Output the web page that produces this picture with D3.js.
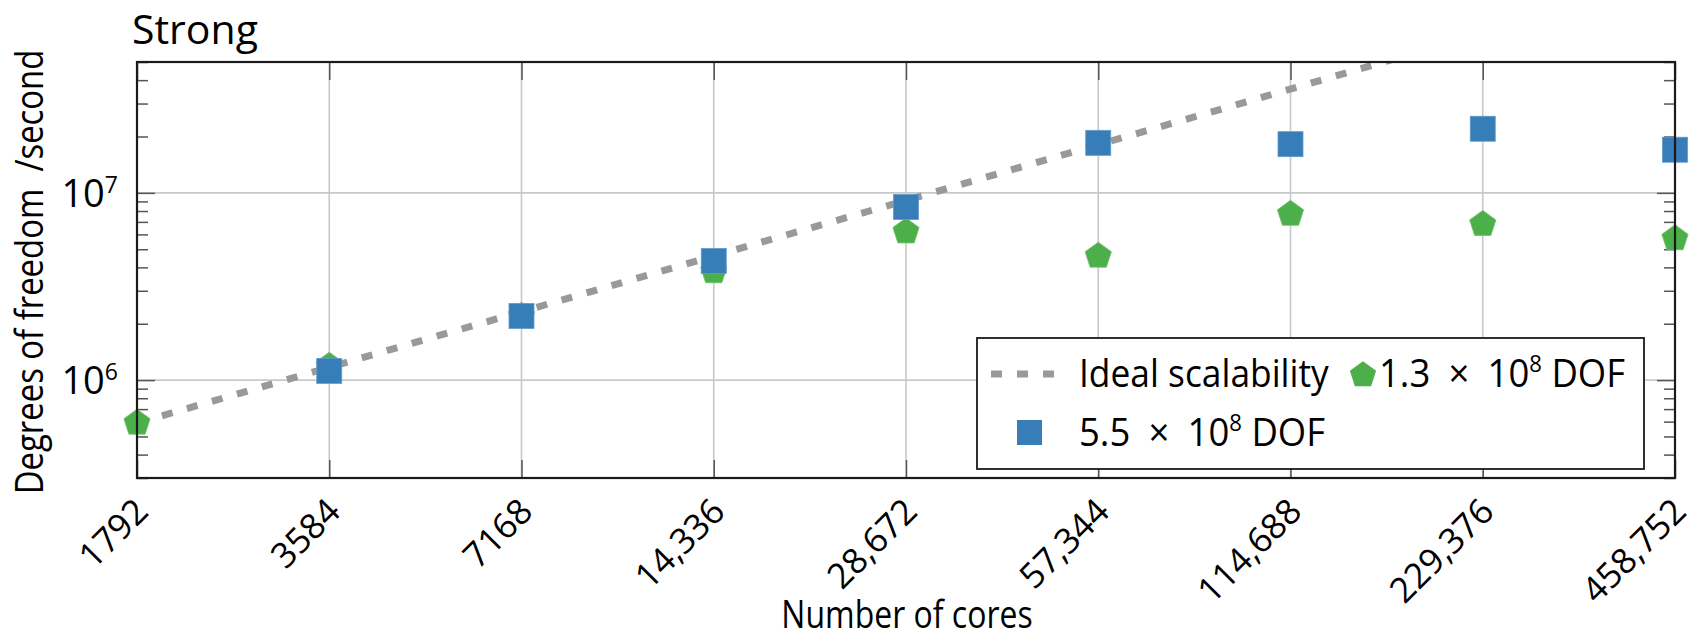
<!DOCTYPE html>
<html>
<head>
<meta charset="utf-8">
<script src="https://cdn.jsdelivr.net/npm/d3@7"></script>
<style>
  html, body { margin: 0; padding: 0; background: #fff; }
  svg text { fill: #000; font-family: 'Open Sans', sans-serif; }
</style>
</head>
<body>
<svg id="chart"></svg>
<script>
// number of cores on the x axis, with their printed labels
const cores = [1792, 3584, 7168, 14336, 28672, 57344, 114688, 229376, 458752];
const coreLabels = ['1792', '3584', '7168', '14,336', '28,672', '57,344', '114,688', '229,376', '458,752'];

// 1.3 x 10^8 DOF problem (green pentagons), one value per core count
const dofSmall = [5.9e5, 1.19e6, 2.2e6, 3.8e6, 6.2e6, 4.6e6, 7.7e6, 6.8e6, 5.7e6];

// 5.5 x 10^8 DOF problem (blue squares), starts at 3584 cores
const coresLarge = [3584, 7168, 14336, 28672, 57344, 114688, 229376, 458752];
const dofLarge = [1.12e6, 2.2e6, 4.33e6, 8.4e6, 1.85e7, 1.82e7, 2.2e7, 1.7e7];

// ideal scalability line, read at both ends
const idealCores = [1792, 458752];
const idealDof = [5.9e5, 1.41e8];

const yMajor = [1e6, 1e7];

const width = 1696;
const height = 638;
const margin = {top: 62, right: 21, bottom: 160, left: 137};

const blue = '#377eb8';
const green = '#4daf4a';
const gridGrey = '#c8c8c8';
const tickGrey = '#555';
const dash = '11,15';

const svg = d3.select('#chart')
	.attr('width', width)
	.attr('height', height);

const x = d3.scaleLog().base(2)
	.domain([1792, 458752]).range([margin.left, width - margin.right]);
const y = d3.scaleLog()
	.domain([3e5, 5e7]).range([height - margin.bottom, margin.top]);

const x0 = x.range()[0], x1 = x.range()[1];
const y0 = y.range()[0], y1 = y.range()[1];

svg.append('defs').append('clipPath').attr('id', 'plot-clip')
	.append('rect')
	.attr('x', x0).attr('y', y1)
	.attr('width', x1 - x0).attr('height', y0 - y1);

// grid
const grid = svg.append('g');
grid.selectAll('.vgrid').data(cores).enter().append('line')
	.attr('x1', d => x(d)).attr('x2', d => x(d))
	.attr('y1', y0).attr('y2', y1)
	.attr('stroke', gridGrey).attr('stroke-width', 1.6);
grid.selectAll('.hgrid').data(yMajor).enter().append('line')
	.attr('x1', x0).attr('x2', x1)
	.attr('y1', d => y(d)).attr('y2', d => y(d))
	.attr('stroke', gridGrey).attr('stroke-width', 1.6);

// axes (ticks point inward)
const styleTicks = (g) => {
	g.select('.domain').remove();
	g.selectAll('.tick line').attr('stroke', tickGrey).attr('stroke-width', 1.5);
};

const minor = y.ticks().filter(d => !yMajor.includes(d));

svg.append('g')
	.attr('transform', `translate(0,${y0})`)
	.call(d3.axisBottom(x).tickValues(cores).tickSizeInner(-18).tickSizeOuter(0)
		.tickFormat((d, i) => coreLabels[i]))
	.call(styleTicks)
	.call(g => g.selectAll('.tick text')
		.attr('font-family', "'Open Sans', sans-serif")
		.attr('font-size', 35)
		.attr('fill', '#000')
		.attr('text-anchor', 'end')
		.attr('x', 0).attr('y', 0).attr('dy', '0.35em')
		.attr('transform', 'translate(4,27) rotate(-45)'));

svg.append('g')
	.attr('transform', `translate(0,${y1})`)
	.call(d3.axisTop(x).tickValues(cores).tickSizeInner(-18).tickSizeOuter(0).tickFormat(''))
	.call(styleTicks);

const leftAxis = svg.append('g')
	.attr('transform', `translate(${x0},0)`)
	.call(d3.axisLeft(y).tickValues(yMajor).tickSizeInner(-18).tickSizeOuter(0).tickFormat(''))
	.call(styleTicks);

leftAxis.selectAll('.tick').append('text')
	.attr('x', -19).attr('y', 0).attr('dy', '0.36em')
	.attr('text-anchor', 'end')
	.attr('font-size', 38)
	.attr('fill', '#000')
	.each(function(d) {
		const t = d3.select(this);
		t.append('tspan').text('10');
		t.append('tspan').attr('font-size', 23).attr('dy', '-0.62em')
			.text(Math.round(Math.log10(d)));
	});

svg.append('g')
	.attr('transform', `translate(${x0},0)`)
	.call(d3.axisLeft(y).tickValues(minor).tickSizeInner(-11).tickSizeOuter(0).tickFormat(''))
	.call(styleTicks);

svg.append('g')
	.attr('transform', `translate(${x1},0)`)
	.call(d3.axisRight(y).tickValues(yMajor).tickSizeInner(-18).tickSizeOuter(0).tickFormat(''))
	.call(styleTicks);

svg.append('g')
	.attr('transform', `translate(${x1},0)`)
	.call(d3.axisRight(y).tickValues(minor).tickSizeInner(-11).tickSizeOuter(0).tickFormat(''))
	.call(styleTicks);

// ideal scalability
const idealLine = d3.line()
	.x(d => x(d[0]))
	.y(d => y(d[1]));

svg.append('path')
	.datum(d3.zip(idealCores, idealDof))
	.attr('clip-path', 'url(#plot-clip)')
	.attr('d', idealLine)
	.attr('fill', 'none')
	.attr('stroke', '#999')
	.attr('stroke-width', 7)
	.attr('stroke-dasharray', dash);

// markers
const pentPath = (r) => {
	const pts = d3.range(5).map(i => {
		const a = -Math.PI / 2 + i * 2 * Math.PI / 5;
		return [r * Math.cos(a), r * Math.sin(a)];
	});
	return 'M' + pts.map(p => p.join(',')).join('L') + 'Z';
};

svg.selectAll('.green').data(d3.zip(cores, dofSmall)).enter().append('path')
	.attr('transform', d => `translate(${x(d[0])},${y(d[1])})`)
	.attr('d', pentPath(13.8))
	.attr('fill', green)
	.attr('stroke', '#6cc26a').attr('stroke-width', 0.8);

svg.selectAll('.blue').data(d3.zip(coresLarge, dofLarge)).enter().append('rect')
	.attr('x', d => x(d[0]) - 12.5)
	.attr('y', d => y(d[1]) - 12.5)
	.attr('width', 25).attr('height', 25)
	.attr('fill', blue)
	.attr('stroke', '#5f9bd0').attr('stroke-width', 0.8);

// frame
svg.append('rect')
	.attr('x', x0).attr('y', y1)
	.attr('width', x1 - x0).attr('height', y0 - y1)
	.attr('fill', 'none')
	.attr('stroke', '#1a1a1a')
	.attr('stroke-width', 2.2);

// legend
const legend = svg.append('g');
legend.append('rect')
	.attr('x', 977).attr('y', 338)
	.attr('width', 667).attr('height', 131)
	.attr('fill', '#fff')
	.attr('stroke', '#1a1a1a').attr('stroke-width', 1.8);

legend.append('line')
	.attr('x1', 991).attr('x2', 1060)
	.attr('y1', 374).attr('y2', 374)
	.attr('stroke', '#999').attr('stroke-width', 7)
	.attr('stroke-dasharray', dash);
legend.append('text')
	.attr('transform', 'translate(1079,387) scale(0.93,1)')
	.attr('font-size', 38)
	.text('Ideal scalability');

legend.append('path')
	.attr('transform', 'translate(1363,375)')
	.attr('d', pentPath(13.8))
	.attr('fill', green);

const dofLabel = (g, tx, ty, lead) => {
	const t = g.append('text')
		.attr('transform', `translate(${tx},${ty}) scale(0.96,1)`)
		.attr('font-size', 38);
	t.append('tspan').text(lead + '\u2002\u00d7\u200210');
	t.append('tspan').attr('font-size', 23).attr('dy', -15).text('8');
	t.append('tspan').attr('dy', 15).text(' DOF');
};
dofLabel(legend, 1379, 387, '1.3');

legend.append('rect')
	.attr('x', 1017).attr('y', 420)
	.attr('width', 25).attr('height', 25)
	.attr('fill', blue);
dofLabel(legend, 1079, 446, '5.5');

// titles
svg.append('text')
	.attr('x', 132).attr('y', 44)
	.attr('font-size', 41)
	.text('Strong');

svg.append('text')
	.attr('text-anchor', 'middle')
	.attr('font-size', 39)
	.attr('transform', 'translate(907,628) scale(0.82,1)')
	.text('Number of cores');

svg.append('text')
	.attr('text-anchor', 'middle')
	.attr('font-size', 38)
	.attr('transform', 'translate(43,272) rotate(-90) scale(0.865,1)')
	.style('white-space', 'pre')
	.text('Degrees of freedom  /second');
</script>
</body>
</html>
